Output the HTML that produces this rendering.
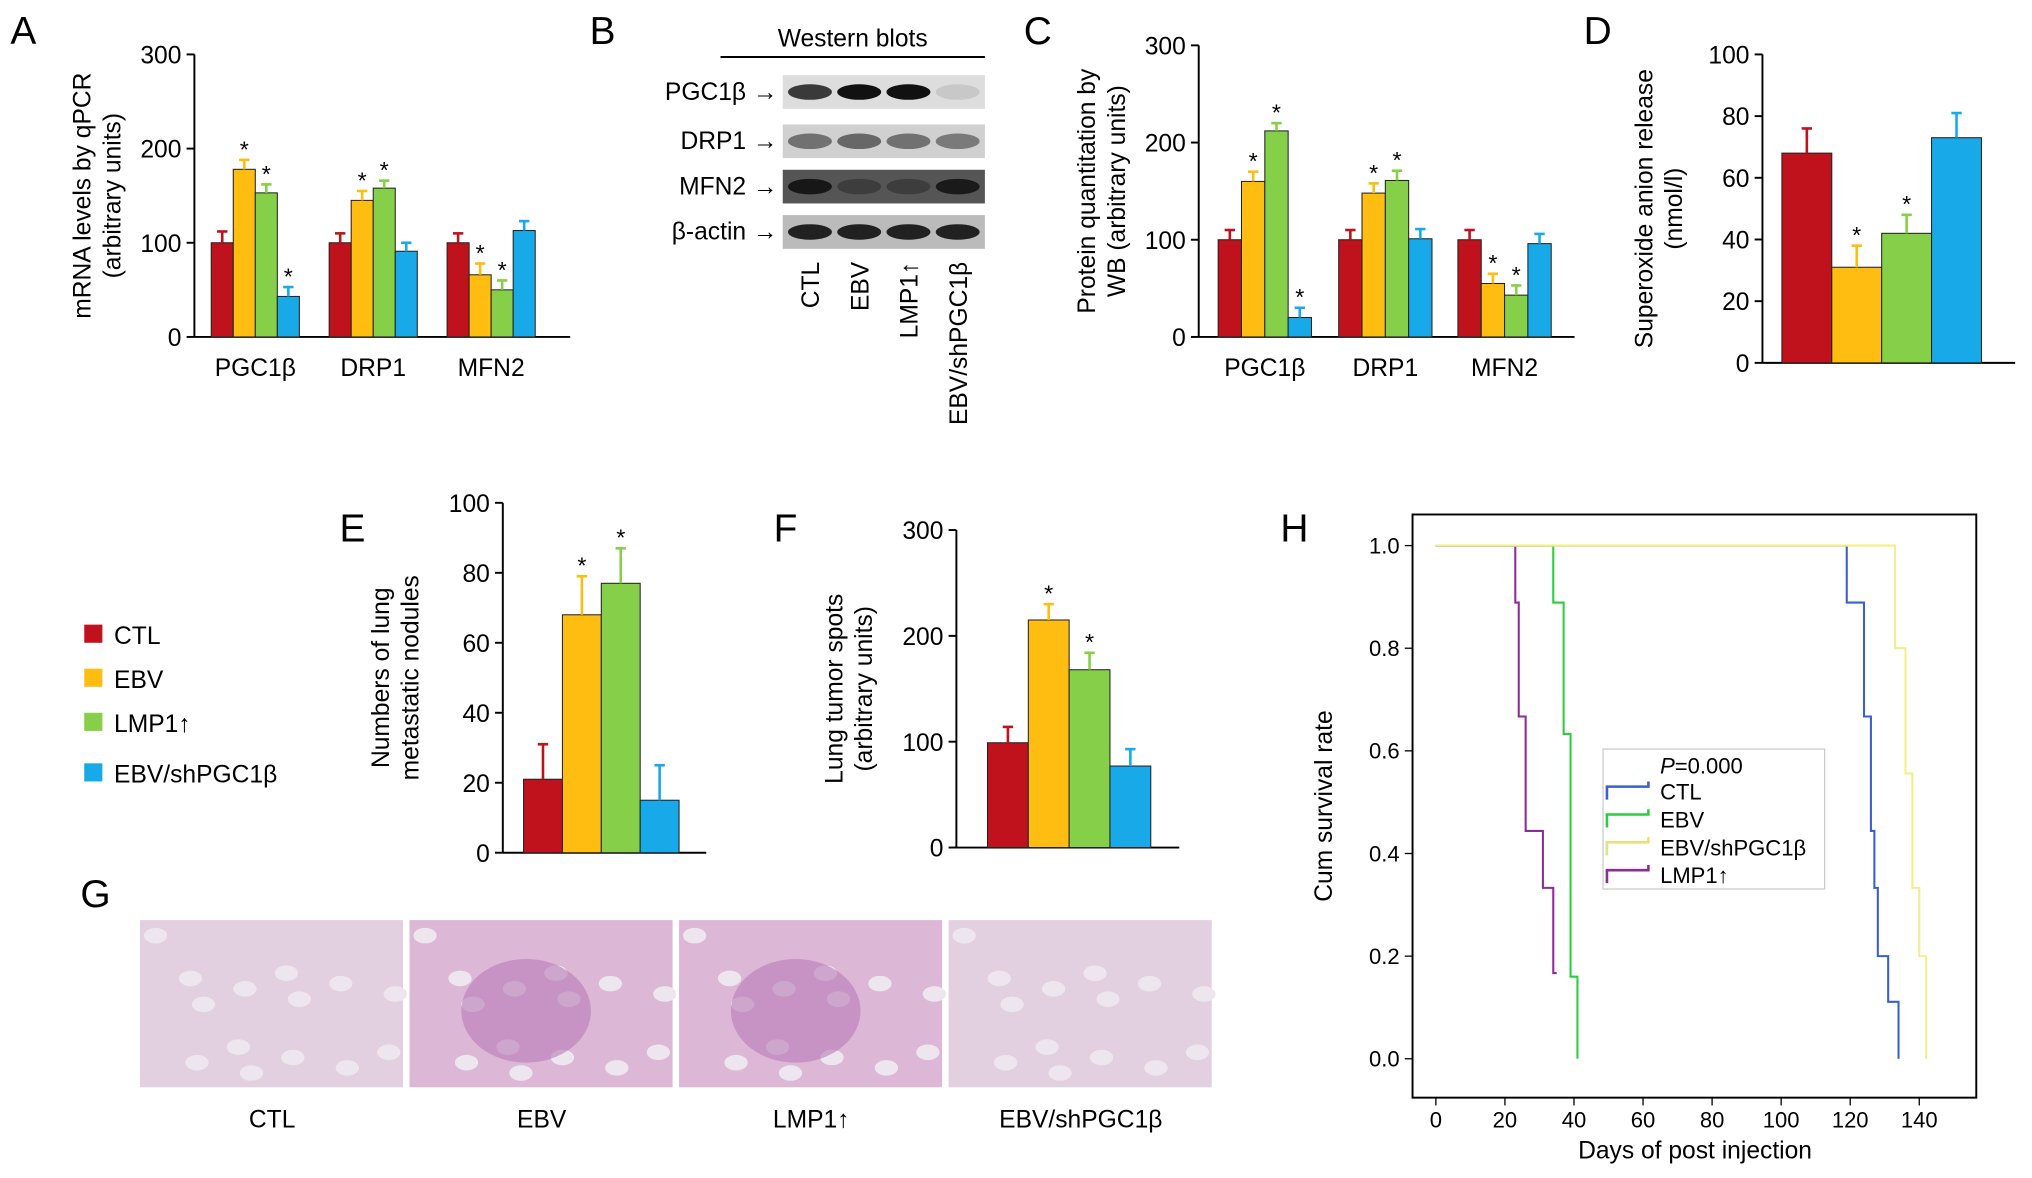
<!DOCTYPE html>
<html><head><meta charset="utf-8"><style>
html,body{margin:0;padding:0;background:#fff}
svg{display:block;font-family:"Liberation Sans",Arial,sans-serif}
</style></head><body>
<svg id="fig" width="2032" height="1178" viewBox="0 0 1568 909" preserveAspectRatio="none" xmlns="http://www.w3.org/2000/svg">
<g id="root"></g>
</svg>
<script>
const colors=['#c0121c','#ffbd12','#86cf48','#18a9e8'];
const groupNames=['PGC1β','DRP1','MFN2'];
const aVals=[[100,178,153,43],[100,145,158,91],[100,66,50,113]];
const aErr=[[12,10,9,10],[10,10,8,9],[10,12,10,10]];
const aStar=[[0,1,1,1],[0,1,1,0],[0,1,1,0]];
const cVals=[[100,160,212,20],[100,148,161,101],[100,55,43,96]];
const cErr=[[10,10,8,10],[10,10,10,10],[10,10,10,10]];
const cStar=[[0,1,1,1],[0,1,1,0],[0,1,1,0]];
const dVals=[68,31,42,73];
const dErr=[8,7,6,8];
const dStar=[0,1,1,0];
const eVals=[21,68,77,15];
const eErr=[10,11,10,10];
const eStar=[0,1,1,0];
const fVals=[99,215,168,77];
const fErr=[15,15,16,16];
const fStar=[0,1,1,0];
const legendLabels=['CTL','EBV','LMP1↑','EBV/shPGC1β'];
const ctlT=[0,119,119,124,126,127,128,131,134];const ctlS=[1,1,0.889,0.667,0.444,0.333,0.2,0.111,0];
const ebvT=[0,34,34,37,39,41];const ebvS=[1,1,0.889,0.633,0.16,0];
const shT=[0,131,133,136,138,140,142];const shS=[1,1,0.8,0.556,0.333,0.2,0];
const lmpT=[0,23,23,24,26,31,34,35];const lmpS=[1,1,0.889,0.667,0.444,0.333,0.167,0.167];

const NS='http://www.w3.org/2000/svg';const root=document.getElementById('root');
function el(tag,attrs,parent,txt){const e=document.createElementNS(NS,tag);for(const k in attrs)e.setAttribute(k,attrs[k]);if(txt!==undefined)e.textContent=txt;(parent||root).appendChild(e);return e;}
function panelLetter(t,x,y){const e=el('text',{x:x,y:y,'font-size':30},root,t);}
panelLetter('A',8,34);panelLetter('B',455,34);panelLetter('C',790,34);panelLetter('D',1222,34);
panelLetter('E',262,418);panelLetter('F',597,418);panelLetter('G',62,700);panelLetter('H',988,418);

function axes(g,x0,y0,yTop,xEnd,ticks,max,title,title2,tx){
  el('line',{x1:x0,y1:yTop,x2:x0,y2:y0,stroke:'#000','stroke-width':1.5},g);
  el('line',{x1:x0,y1:y0,x2:xEnd,y2:y0,stroke:'#000','stroke-width':1.5},g);
  const ys=v=>y0-(y0-yTop)*v/max;
  ticks.forEach(t=>{el('line',{x1:x0-6,y1:ys(t),x2:x0,y2:ys(t),stroke:'#000','stroke-width':1.5},g);
    el('text',{x:x0-10,y:ys(t)+7,'font-size':19,'text-anchor':'end'},g,t);});
  const cy=(y0+yTop)/2;
  const t1=el('text',{transform:`translate(${tx},${cy}) rotate(-90)`,'font-size':19,'text-anchor':'middle'},g,title);
  
  if(title2)el('text',{transform:`translate(${tx+23},${cy}) rotate(-90)`,'font-size':19,'text-anchor':'middle'},g,title2);
  return ys;
}
function bar(g,x,w,v,err,star,ys,y0,c){
  const b=el('rect',{x:x,y:ys(v),width:w,height:y0-ys(v),fill:c,stroke:'#222','stroke-width':0.8},g);
  
  const top=ys(v+err);
  el('line',{x1:x+w/2,y1:ys(v),x2:x+w/2,y2:top,stroke:c,'stroke-width':2},g);
  el('line',{x1:x+w/2-4,y1:top,x2:x+w/2+4,y2:top,stroke:c,'stroke-width':2},g);
  if(star)el('text',{x:x+w/2,y:top-2,'font-size':18,'text-anchor':'middle'},g,'*');
}
function grouped(name,x0,y0,yTop,xEnd,vals,err,stars,starts,bw,tx,t1,t2){
  const g=el('g',{});
  const ys=axes(g,x0,y0,yTop,xEnd,[0,100,200,300],300,t1,t2,tx);
  vals.forEach((gv,gi)=>{gv.forEach((v,i)=>bar(g,starts[gi]+i*bw,bw,v,err[gi][i],stars[gi][i],ys,y0,colors[i]));
    el('text',{x:starts[gi]+2*bw,y:y0+30,'font-size':19,'text-anchor':'middle'},g,groupNames[gi]);});
}
grouped('chart-a',150,260,42,440,aVals,aErr,aStar,[163,254,345],17,70,'mRNA levels by qPCR','(arbitrary units)');
grouped('chart-c',925,260,35,1215,cVals,cErr,cStar,[940,1033,1125],18,845,'Protein quantitation by','WB (arbitrary units)');
function simple(name,x0,y0,yTop,xEnd,ticks,max,vals,err,stars,xs,bw,tx,t1,t2){
  const g=el('g',{});
  const ys=axes(g,x0,y0,yTop,xEnd,ticks,max,t1,t2,tx);
  vals.forEach((v,i)=>bar(g,xs+i*bw,bw,v,err[i],stars[i],ys,y0,colors[i]));
}
simple('chart-d',1360,280,42,1555,[0,20,40,60,80,100],100,dVals,dErr,dStar,1375,38.5,1275,'Superoxide anion release','(nmol/l)');
simple('chart-e',388,658,388,545,[0,20,40,60,80,100],100,eVals,eErr,eStar,404,30,300,'Numbers of lung','metastatic nodules');
simple('chart-f',738,654,409,910,[0,100,200,300],300,fVals,fErr,fStar,762,31.5,650,'Lung tumor spots','(arbitrary units)');

legendLabels.forEach((l,i)=>{const y=[490,524,558,597][i];
  const r=el('rect',{x:65,y:y-8,width:14,height:14,fill:colors[i]});
  const t=el('text',{x:88,y:y+7,'font-size':19},root,l);});

const wb=el('g',{});
el('text',{x:658,y:36,'font-size':19,'text-anchor':'middle'},wb,'Western blots');
el('line',{x1:556,y1:44,x2:760,y2:44,stroke:'#000','stroke-width':1.5},wb);
const rows=[['PGC1β →',58,'#ddd',[0.8,1,1,0.1]],['DRP1 →',96,'#d0d0d0',[0.5,0.55,0.5,0.45]],['MFN2 →',131,'#555',[0.9,0.35,0.35,0.85]],['β-actin →',166,'#bbb',[0.9,0.9,0.9,0.9]]];
rows.forEach(r=>{el('text',{x:600,y:r[1]+19,'font-size':19,'text-anchor':'end'},wb,r[0]);
  el('rect',{x:604,y:r[1],width:156,height:26,fill:r[2]},wb);
  r[3].forEach((a,i)=>el('ellipse',{cx:625+i*38,cy:r[1]+13,rx:17,ry:6,fill:'#111','fill-opacity':a},wb));});
['CTL','EBV','LMP1↑','EBV/shPGC1β'].forEach((l,i)=>el('text',{transform:`translate(${632+i*38},202) rotate(-90)`,'font-size':19,'text-anchor':'end'},wb,l));

['CTL','EBV','LMP1↑','EBV/shPGC1β'].forEach((l,i)=>{const x=[108,316,524,732][i];
  const g=el('g',{});
  el('rect',{x:x,y:710,width:203,height:129,fill:i==1||i==2?'#dcb7d6':'#e2cfe0'},g);
  for(let k=0;k<14;k++)el('ellipse',{cx:x+12+(k*37)%190,cy:722+(k*53)%110,rx:9,ry:6,fill:'#eee6ee'},g);
  if(i==1||i==2)el('ellipse',{cx:x+90,cy:780,rx:50,ry:40,fill:'#b87bb8','fill-opacity':0.6},g);
  el('text',{x:x+102,y:870,'font-size':19,'text-anchor':'middle'},g,l);});

const h=el('g',{});
el('rect',{x:1090,y:397,width:435,height:450,fill:'none',stroke:'#000','stroke-width':1.5},h);
const X=d=>1108+d*(1481-1108)/140,Y=s=>817-s*(817-421);
[0,20,40,60,80,100,120,140].forEach(t=>{el('line',{x1:X(t),y1:847,x2:X(t),y2:853,stroke:'#000'},h);el('text',{x:X(t),y:870,'font-size':17,'text-anchor':'middle'},h,t);});
[0,0.2,0.4,0.6,0.8,1.0].forEach(t=>{el('line',{x1:1084,y1:Y(t),x2:1090,y2:Y(t),stroke:'#000'},h);el('text',{x:1080,y:Y(t)+6,'font-size':17,'text-anchor':'end'},h,t.toFixed(1));});
el('text',{x:1308,y:894,'font-size':19,'text-anchor':'middle'},h,'Days of post injection');
el('text',{transform:'translate(1028,622) rotate(-90)','font-size':19,'text-anchor':'middle'},h,'Cum survival rate');
function step(T,S,c,nm){let d=`M${X(T[0])},${Y(S[0])}`;for(let i=1;i<T.length;i++){d+=`H${X(T[i])}V${Y(S[i])}`;}
  const p=el('path',{d:d,fill:'none',stroke:c,'stroke-width':1.6},h);}
step(lmpT,lmpS,'#8e2a9a','lmp1');step(ebvT,ebvS,'#2ecc40','ebv');step(ctlT,ctlS,'#3a5fd0','ctl');step(shT,shS,'#f2ef8a','shpgc');
const lg=el('g',{},h);
el('rect',{x:1237,y:578,width:171,height:108,fill:'#fff',stroke:'#ccc'},lg);
el('text',{x:1281,y:597,'font-size':17},lg,'').innerHTML='<tspan font-style="italic">P</tspan>=0.000';
[['CTL','#3a5fd0'],['EBV','#2ecc40'],['EBV/shPGC1β','#e6e27a'],['LMP1↑','#8e2a9a']].forEach((e,i)=>{const y=611+i*21.5;
  el('path',{d:`M1240,${y+6}V${y-4}H1272V${y-8}`,fill:'none',stroke:e[1],'stroke-width':2},lg);
  el('text',{x:1281,y:y+6,'font-size':17},lg,e[0]);});
</script>
</body></html>
